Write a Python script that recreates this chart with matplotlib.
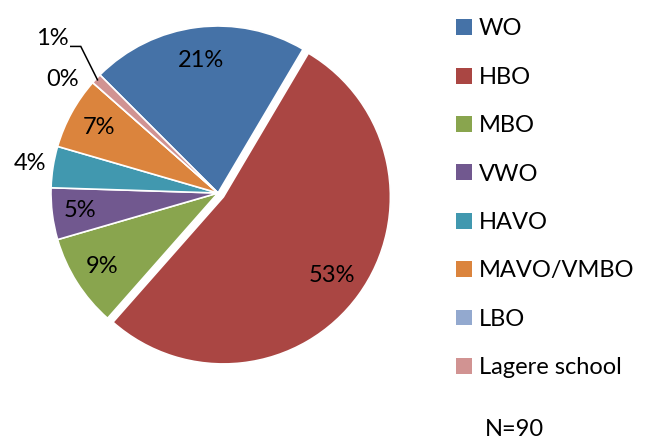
import numpy as np
import matplotlib
matplotlib.use("Agg")
import matplotlib.pyplot as plt

categories = ["WO", "HBO", "MBO", "VWO", "HAVO", "MAVO/VMBO", "LBO", "Lagere school"]
percentages = [21, 53, 9, 5, 4, 7, 0, 1]
colors = ["#4572A7", "#AA4643", "#89A54E", "#71588F", "#4198AF", "#DB843D", "#93A9CF", "#D19392"]
n_label = "N=90"

plt.rcParams['font.family'] = ['Lato', 'DejaVu Sans']
FS = 17

W, H = 646, 441
fig = plt.figure(figsize=(W / 100, H / 100), dpi=100)
ax = fig.add_axes([0, 0, 1, 1])

cx, cy, R = 218, 193, 167  # pixels (from top)
explode = [0.04 if c == "HBO" else 0 for c in categories]
wedges, _ = ax.pie(percentages, colors=colors, startangle=135, counterclock=False,
                   explode=explode, radius=1.0,
                   wedgeprops=dict(edgecolor="white", linewidth=1.2))

ax.set_xlim(-cx / R, (W - cx) / R)
ax.set_ylim(-(H - cy) / R, cy / R)
ax.set_aspect('auto')
ax.axis('off')

label_r = {"WO": 0.80, "HBO": 0.80, "MBO": 0.82, "VWO": 0.83, "HAVO": 1.14,
           "MAVO/VMBO": 0.81, "LBO": 1.16, "Lagere school": 1.39}
for w, cat, p in zip(wedges, categories, percentages):
    mid = np.deg2rad((w.theta1 + w.theta2) / 2)
    ox, oy = w.center
    r = label_r[cat]
    if cat == "Lagere school":
        ex, ey = np.cos(mid) * 0.99, np.sin(mid) * 0.99
        kx, ky = ex - 0.10, ey + 0.20
        hx = kx - 0.06
        ax.plot([ex, kx, hx], [ey, ky, ky], color="black", lw=1.1, solid_joinstyle='miter')
        ax.text(hx - 0.01, ky + 0.05, f"{p}%", ha="right", va="center", fontsize=FS)
    elif cat == "LBO":
        ax.text(np.cos(mid) * r - 0.06, np.sin(mid) * r - 0.09, f"{p}%", ha="center",
                va="center", fontsize=FS)
    else:
        ax.text(ox + np.cos(mid) * r, oy + np.sin(mid) * r, f"{p}%", ha="center",
                va="center", fontsize=FS)

# legend
leg = fig.legend(wedges, categories, loc="upper left", bbox_to_anchor=(447 / W, 1 - 9 / H),
                 frameon=False, fontsize=FS, handlelength=0.66, handleheight=0.66,
                 handletextpad=0.3, labelspacing=1.16, borderaxespad=0)
for h in leg.legend_handles:
    h.set_edgecolor("none")

fig.text(485 / W, 1 - 429 / H, n_label, ha="left", va="center", fontsize=FS)

fig.savefig("out.png", dpi=100)
